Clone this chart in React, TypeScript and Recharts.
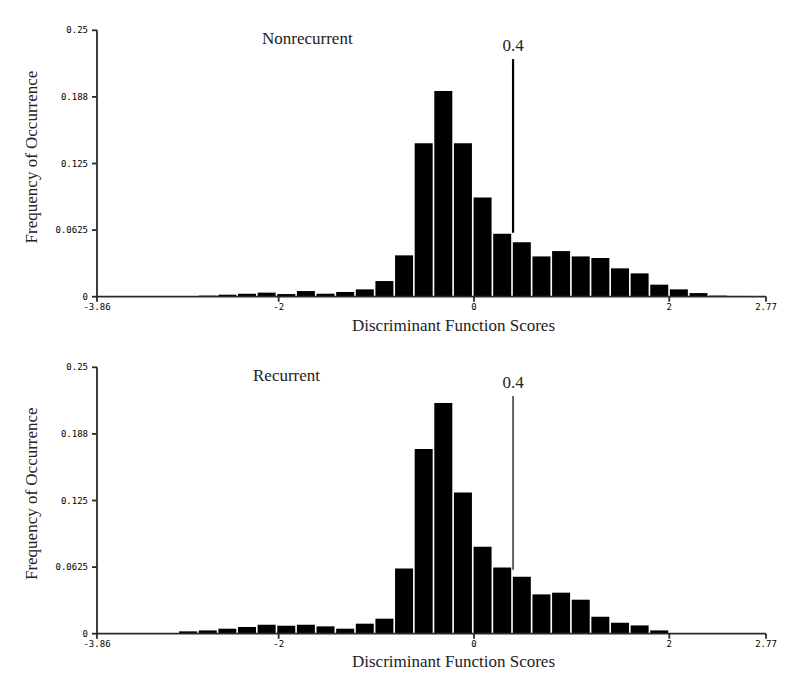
import React from 'react';
import { ComposedChart, Bar, XAxis, YAxis, ReferenceLine } from 'recharts';

// Bin centers of the histogram (discriminant function score)
const binCenters = [
  -2.929, -2.728, -2.527, -2.326, -2.125, -1.924, -1.723, -1.522, -1.321, -1.12,
  -0.919, -0.718, -0.517, -0.316, -0.115, 0.086, 0.287, 0.488, 0.689, 0.89,
  1.091, 1.292, 1.493, 1.694, 1.895, 2.096, 2.297, 2.498, 2.699, 2.9,
];

const nonrecurrentFreq = [
  0, 0.001, 0.0019, 0.0028, 0.0038, 0.0025, 0.0053, 0.0028, 0.0044, 0.0069,
  0.0147, 0.0388, 0.144, 0.193, 0.144, 0.0932, 0.059, 0.051, 0.0378, 0.0428,
  0.0378, 0.0363, 0.0266, 0.0219, 0.0113, 0.0069, 0.0034, 0.001, 0.0007, 0.0004,
];

const recurrentFreq = [
  0.0022, 0.0031, 0.0047, 0.0063, 0.0084, 0.0075, 0.0084, 0.0069, 0.0047, 0.0094,
  0.0141, 0.0613, 0.1733, 0.2164, 0.1326, 0.0816, 0.0622, 0.0535, 0.0369, 0.0385,
  0.0319, 0.0159, 0.0103, 0.0078, 0.0031, 0, 0, 0, 0, 0,
];

const yTicks = [0, 0.0625, 0.125, 0.1875, 0.25];
const yTickLabels = ['0', '0.0625', '0.125', '0.188', '0.25'];
const xTicks = [-3.86, -2, 0, 2, 2.99];
const xTickLabels = ['-3.86', '-2', '0', '2', '2.77'];
const xDomain: [number, number] = [-3.86, 2.99];
const cutoff = 0.4;
const cutoffRange = [0.06, 0.223];

const panelTitles = ['Nonrecurrent', 'Recurrent'];
const xTitle = 'Discriminant Function Scores';
const yTitle = 'Frequency of Occurrence';

const serif = '"Liberation Serif", "Times New Roman", serif';
const mono = '"DejaVu Sans Mono", monospace';
const axisColor = '#2a2a2a';

const PANEL_H = 340;
const PANEL_OFFSET = 336.7;

function Panel({ freq, lineWidth }: { freq: number[]; lineWidth: number }) {
  const data = binCenters.map((x, i) => ({ x, y: freq[i] }));
  const tickStyle = { fontSize: 9, fontFamily: mono, fill: '#000' };
  return (
    <ComposedChart
      width={800}
      height={PANEL_H}
      data={data}
      margin={{ top: 30.3, right: 34, left: 0, bottom: 0 }}
      barCategoryGap={1}
    >
      <XAxis
        type="number"
        dataKey="x"
        domain={xDomain}
        ticks={xTicks}
        tickFormatter={(v: number) => xTickLabels[xTicks.indexOf(v)] ?? String(v)}
        height={43.3}
        tickSize={5}
        tickMargin={2}
        stroke={axisColor}
        strokeWidth={1.8}
        tick={tickStyle}
        interval={0}
      />
      <YAxis
        type="number"
        domain={[0, 0.25]}
        ticks={yTicks}
        tickFormatter={(v: number) => yTickLabels[yTicks.indexOf(v)] ?? String(v)}
        width={97}
        tickSize={5}
        tickMargin={4}
        stroke={axisColor}
        strokeWidth={1.8}
        tick={tickStyle}
        interval={0}
      />
      <Bar dataKey="y" fill="#000" isAnimationActive={false} />
      <ReferenceLine
        segment={[
          { x: cutoff, y: cutoffRange[0] },
          { x: cutoff, y: cutoffRange[1] },
        ]}
        stroke="#000"
        strokeWidth={lineWidth}
        label={{
          value: String(cutoff),
          position: 'top',
          offset: 8,
          fontSize: 17,
          fontFamily: serif,
          fill: '#222',
        }}
      />
    </ComposedChart>
  );
}

export default function App() {
  return (
    <div
      style={{
        position: 'absolute',
        left: 0,
        top: 0,
        width: 800,
        height: 696,
        background: '#fff',
        overflow: 'hidden',
      }}
    >
      <div style={{ position: 'absolute', left: 0, top: 0 }}>
        <Panel freq={nonrecurrentFreq} lineWidth={2.2} />
      </div>
      <div style={{ position: 'absolute', left: 0, top: PANEL_OFFSET }}>
        <Panel freq={recurrentFreq} lineWidth={1.2} />
      </div>
      <svg
        width={800}
        height={696}
        style={{ position: 'absolute', left: 0, top: 0, pointerEvents: 'none' }}
      >
        {[0, 1].map((i) => {
          const dy = i * PANEL_OFFSET;
          return (
            <g key={i} fontFamily={serif} fontSize={17} fill="#222">
              <text x={i === 0 ? 262 : 253} y={44 + dy}>
                {panelTitles[i]}
              </text>
              <text x={453.5} y={330.5 + dy} textAnchor="middle">
                {xTitle}
              </text>
              <text
                x={0}
                y={0}
                textAnchor="middle"
                transform={`translate(36.5, ${157 + dy}) rotate(-90)`}
              >
                {yTitle}
              </text>
            </g>
          );
        })}
      </svg>
    </div>
  );
}
